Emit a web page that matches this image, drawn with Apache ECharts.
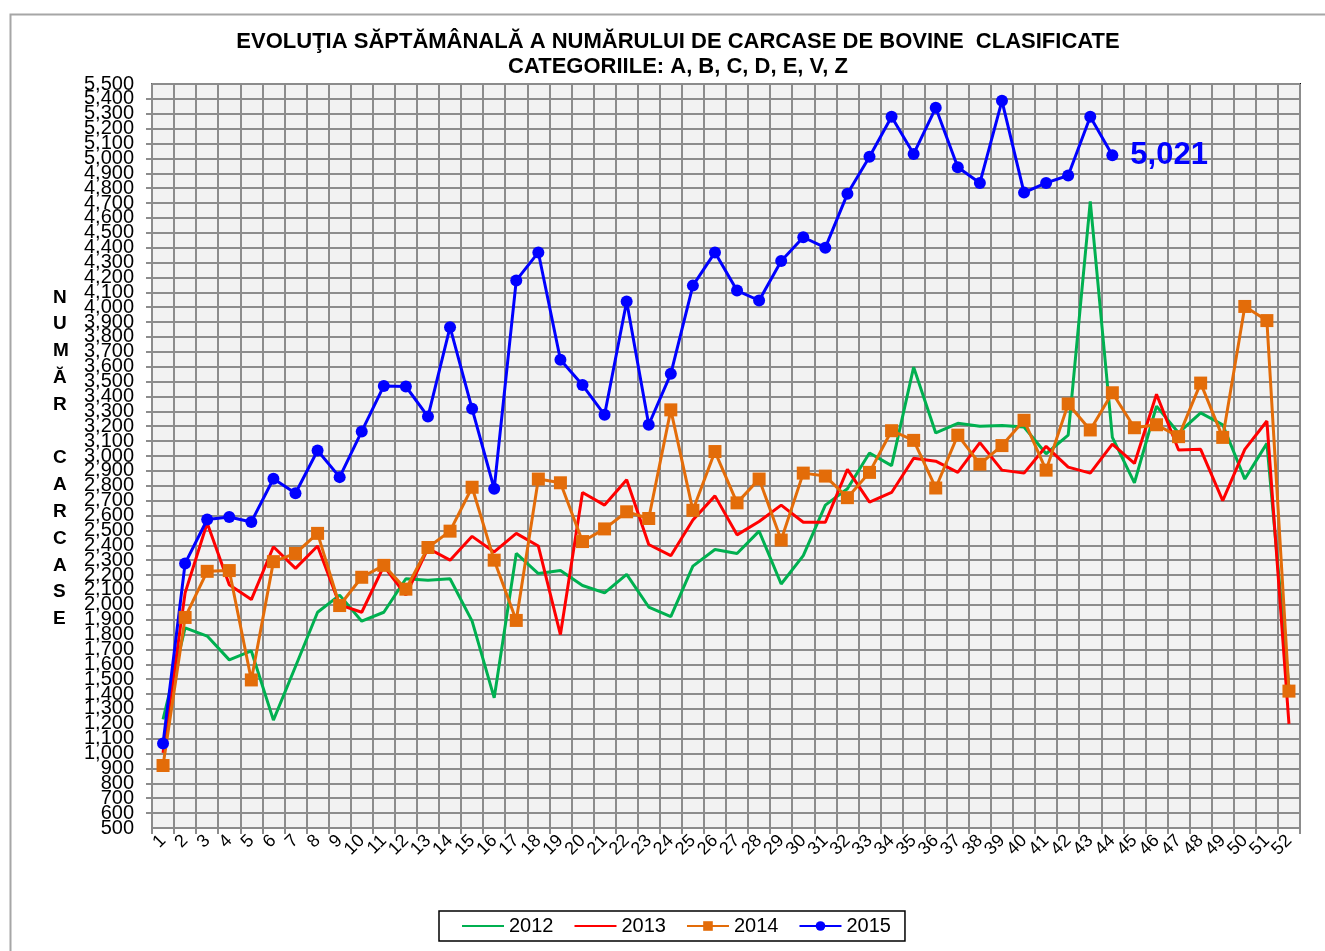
<!DOCTYPE html>
<html>
<head>
<meta charset="utf-8">
<script src="https://cdn.jsdelivr.net/npm/echarts@6/dist/echarts.min.js"></script>
<style>
  html, body { margin: 0; padding: 0; background: #fff; }
  #chart { width: 1325px; height: 951px; }
</style>
</head>
<body>
<div id="chart"></div>
<script>
// saptamanile 1..52
var weeks = ['1','2','3','4','5','6','7','8','9','10','11','12','13','14','15','16','17','18','19','20',
  '21','22','23','24','25','26','27','28','29','30','31','32','33','34','35','36','37','38','39','40',
  '41','42','43','44','45','46','47','48','49','50','51','52'];

var d2012 = [1230,1845,1790,1630,1690,1225,1585,1950,2065,1890,1950,2175,2165,2175,1890,1375,2345,2210,2230,2130,
  2080,2205,1985,1920,2260,2372,2345,2495,2140,2330,2670,2780,3020,2935,3597,3155,3220,3200,3205,3195,
  3015,3140,4711,3125,2820,3335,3155,3290,3210,2845,3085,1440];

var d2013 = [1005,2080,2550,2135,2035,2390,2245,2395,2000,1950,2260,2065,2380,2300,2460,2355,2480,2395,1800,2755,
  2670,2840,2405,2330,2570,2732,2470,2560,2670,2555,2555,2910,2690,2755,2985,2965,2890,3090,2905,2885,
  3065,2925,2885,3080,2950,3415,3040,3045,2700,3045,3235,1200];

var d2014 = [920,1915,2225,2230,1495,2290,2345,2480,1995,2185,2265,2105,2385,2495,2790,2300,1895,2845,2820,2425,
  2510,2625,2580,3310,2635,3030,2685,2845,2435,2885,2865,2720,2890,3170,3105,2785,3140,2945,3070,3240,
  2905,3350,3175,3425,3190,3210,3130,3490,3125,4005,3910,1420];

var d2015 = [1068,2278,2573,2590,2557,2847,2750,3037,2858,3165,3471,3467,3265,3866,3317,2780,4180,4368,3647,3477,
  3277,4038,3210,3552,4145,4368,4112,4045,4311,4470,4400,4762,5011,5280,5030,5340,4940,4835,5387,4770,
  4835,4885,5280,5021];

var yMin = 500, yMax = 5500, yStep = 100;

var fmt = function (v) { return v.toLocaleString('en-US'); };

// ultimul punct din 2015 primeste eticheta
var data2015 = d2015.map(function (v, i) {
  if (i === d2015.length - 1) {
    return {
      value: v,
      label: {
        show: true, position: 'right', distance: 12,
        formatter: function (p) { return fmt(p.value); },
        color: '#0000ff', fontSize: 31, fontWeight: 'bold', fontFamily: 'Liberation Sans'
      }
    };
  }
  return v;
});

var chart = echarts.init(document.getElementById('chart'));

var yLabel = { fontSize: 20, color: '#000', margin: 18, fontFamily: 'Liberation Sans' };

var option = {
  backgroundColor: '#fff',
  animation: false,
  textStyle: { fontFamily: 'Liberation Sans' },
  title: {
    text: 'EVOLUŢIA SĂPTĂMÂNALĂ A NUMĂRULUI DE CARCASE DE BOVINE  CLASIFICATE\nCATEGORIILE: A, B, C, D, E, V, Z',
    left: 673,
    top: 24,
    textAlign: 'center',
    textStyle: { fontSize: 22, fontWeight: 'bold', color: '#000', lineHeight: 25, fontFamily: 'Liberation Sans' }
  },
  graphic: [
    {
      type: 'rect', left: 8, top: 12, z: -10, silent: true,
      shape: { width: 1340, height: 960 },
      style: { fill: 'none', stroke: '#a6a6a6', lineWidth: 2 }
    },
    {
      type: 'text', left: 53, top: 284,
      style: {
        text: 'N\nU\nM\nĂ\nR\n\nC\nA\nR\nC\nA\nS\nE',
        fontSize: 19, fontWeight: 'bold', lineHeight: 26.8, align: 'center',
        fill: '#000', fontFamily: 'Liberation Sans'
      }
    }
  ],
  legend: {
    left: 439, top: 911,
    padding: [5, 14, 5, 22],
    itemGap: 20,
    itemWidth: 42, itemHeight: 12,
    borderColor: '#000', borderWidth: 1.5,
    textStyle: { fontSize: 20, color: '#000', fontFamily: 'Liberation Sans', padding: [3, 0, 0, 0] },
    data: [
      { name: '2012', itemStyle: { opacity: 0 } },
      { name: '2013', itemStyle: { opacity: 0 } },
      '2014',
      '2015'
    ]
  },
  grid: {
    left: 152, right: 25, top: 84, bottom: 123,
    show: true, backgroundColor: '#f2f2f2', borderColor: '#000', borderWidth: 2
  },
  xAxis: {
    type: 'category',
    data: weeks,
    boundaryGap: true,
    axisLine: { lineStyle: { color: '#8c8c8c', width: 2 } },
    axisTick: { show: true, length: 6, interval: 0, lineStyle: { color: '#8c8c8c', width: 2 } },
    splitLine: { show: true, interval: 0, lineStyle: { color: '#8c8c8c', width: 2 } },
    axisLabel: { interval: 0, rotate: 45, fontSize: 18, color: '#000', margin: 10 }
  },
  yAxis: [
    {
      // axa principala: linii, gradatii, etichetele interioare
      type: 'value',
      min: yMin, max: yMax, interval: yStep,
      axisLine: { show: true, lineStyle: { color: '#8c8c8c', width: 2 } },
      axisTick: { show: true, length: 6, lineStyle: { color: '#8c8c8c', width: 2 } },
      splitLine: { show: true, lineStyle: { color: '#8c8c8c', width: 2 } },
      axisLabel: Object.assign({ formatter: fmt, showMinLabel: false, showMaxLabel: false }, yLabel)
    },
    {
      // doar etichetele de capat (500 si 5,500)
      type: 'value', position: 'left',
      min: yMin, max: yMax, interval: yStep,
      axisLine: { show: false }, axisTick: { show: false }, splitLine: { show: false },
      axisLabel: Object.assign({
        showMinLabel: true, showMaxLabel: true,
        formatter: function (v) { return (v === yMin || v === yMax) ? fmt(v) : ''; }
      }, yLabel)
    }
  ],
  series: [
    {
      name: '2012', type: 'line', data: d2012,
      symbol: 'none', color: '#00b050',
      lineStyle: { width: 3, color: '#00b050' }
    },
    {
      name: '2013', type: 'line', data: d2013,
      symbol: 'none', color: '#ff0000',
      lineStyle: { width: 3, color: '#ff0000' }
    },
    {
      name: '2014', type: 'line', data: d2014,
      symbol: 'rect', symbolSize: 13, color: '#e36c09',
      itemStyle: { color: '#e36c09' },
      lineStyle: { width: 3, color: '#e36c09' }
    },
    {
      name: '2015', type: 'line', data: data2015,
      symbol: 'circle', symbolSize: 12, color: '#0000ff',
      itemStyle: { color: '#0000ff' },
      lineStyle: { width: 3, color: '#0000ff' }
    }
  ]
};

chart.setOption(option);
</script>
</body>
</html>
